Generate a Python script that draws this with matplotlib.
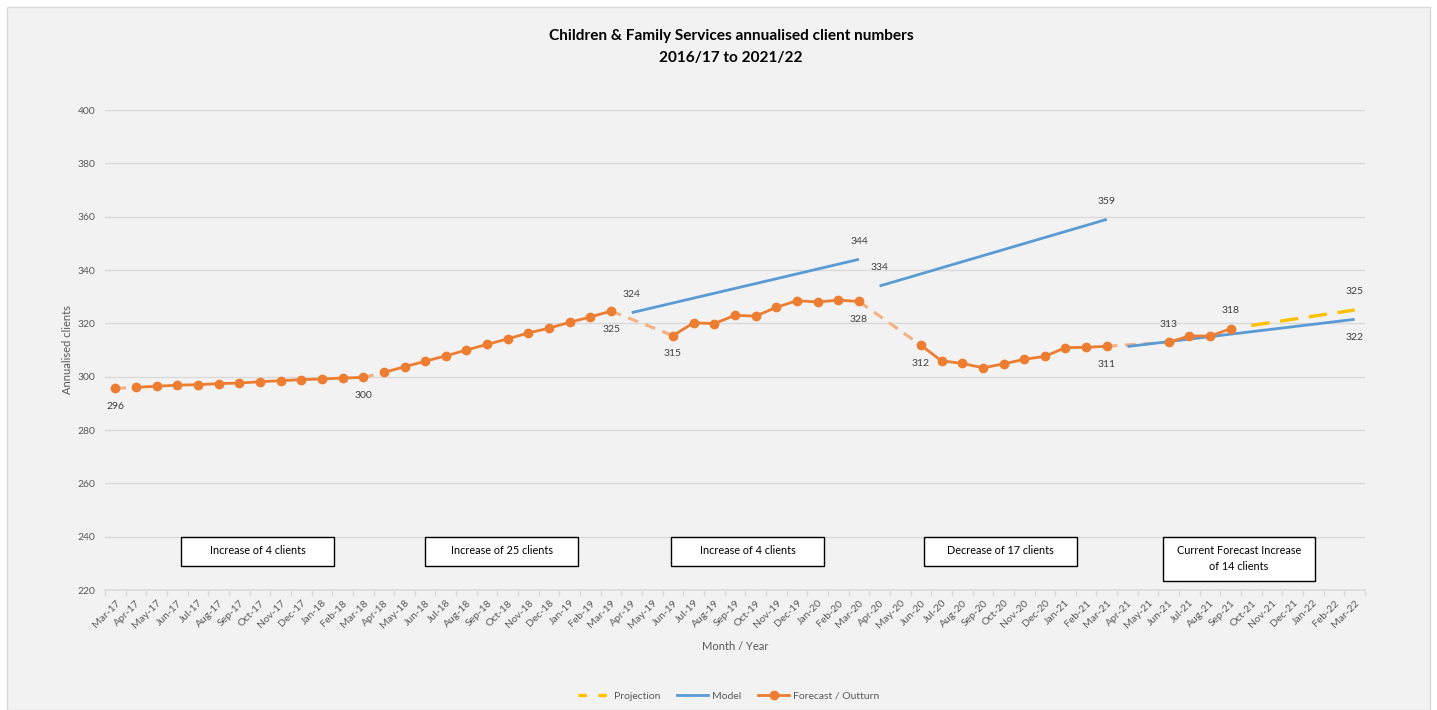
import matplotlib
matplotlib.use("Agg")
import matplotlib.pyplot as plt
from matplotlib.patches import Rectangle
from matplotlib.lines import Line2D
import numpy as np

plt.rcParams['font.family'] = ['Lato', 'DejaVu Sans']

# ---- data -------------------------------------------------------------
months = [
    "Mar-17", "Apr-17", "May-17", "Jun-17", "Jul-17", "Aug-17", "Sep-17", "Oct-17", "Nov-17", "Dec-17", "Jan-18", "Feb-18",
    "Mar-18", "Apr-18", "May-18", "Jun-18", "Jul-18", "Aug-18", "Sep-18", "Oct-18", "Nov-18", "Dec-18", "Jan-19", "Feb-19",
    "Mar-19", "Apr-19", "May-19", "Jun-19", "Jul-19", "Aug-19", "Sep-19", "Oct-19", "Nov-19", "Dec-19", "Jan-20", "Feb-20",
    "Mar-20", "Apr-20", "May-20", "Jun-20", "Jul-20", "Aug-20", "Sep-20", "Oct-20", "Nov-20", "Dec-20", "Jan-21", "Feb-21",
    "Mar-21", "Apr-21", "May-21", "Jun-21", "Jul-21", "Aug-21", "Sep-21", "Oct-21", "Nov-21", "Dec-21", "Jan-22", "Feb-22",
    "Mar-22",
]

# Forecast / outturn, annualised clients (None = no figure for that month)
outturn = [
    295.6, 296.0, 296.4, 296.8, 297.0, 297.4, 297.6, 298.1, 298.5, 298.9, 299.1, 299.5,
    299.7, 301.6, 303.7, 305.8, 307.8, 310.0, 312.1, 314.2, 316.4, 318.2, 320.4, 322.4,
    324.6, None, None, 315.4, 320.2, 319.9, 323.0, 322.7, 326.0, 328.5, 328.0, 328.7,
    328.2, None, None, 311.8, 305.9, 305.0, 303.3, 304.8, 306.5, 307.6, 310.9, 311.0,
    311.4, None, None, 312.9, 315.3, 315.2, 318.0, None, None, None, None, None,
    None,
]

# Model: one straight line per financial year (start month/value, end month/value)
model_start_months = ["Apr-19", "Apr-20", "Apr-21"]
model_start_values = [324.0, 334.0, 311.3]
model_end_months = ["Mar-20", "Mar-21", "Mar-22"]
model_end_values = [344.0, 359.0, 321.5]

# Projection for the rest of 2021/22
projection_months = ["Oct-21", "Mar-22"]
projection_values = [319.2, 325.0]

# Yearly change notes under the lines
note_texts = ["Increase of 4 clients", "Increase of 25 clients", "Increase of 4 clients",
              "Decrease of 17 clients", "Current Forecast Increase\nof 14 clients"]

# ---- styling ----------------------------------------------------------
ORANGE = "#ed7d31"
ORANGE_LIGHT = "#f4b183"
BLUE = "#5b9bd5"
YELLOW = "#ffc000"
GRID = "#d9d9d9"
TXT = "#595959"
LBL = "#404040"

W, H = 1437, 710
fig = plt.figure(figsize=(W / 100, H / 100), dpi=100, facecolor="white")
fig.patches.append(Rectangle((7 / W, 0), (W - 14) / W, (H - 7) / H, transform=fig.transFigure,
                             facecolor="#f2f2f2", edgecolor=GRID, lw=1, zorder=-10))

ax = fig.add_axes([105 / W, 1 - 590 / H, (1365 - 105) / W, (590 - 110) / H])
ax.set_facecolor("none")

x = np.arange(len(months))
idx = {m: i for i, m in enumerate(months)}


def fy_of(i):
    # financial year index (Apr..Mar); Mar-17 belongs to year 0
    return (i + 11) // 12


vals = np.array([np.nan if v is None else v for v in outturn], dtype=float)

# solid lines within each financial year, light dashed link between years
fys = sorted(set(fy_of(i) for i in x if not np.isnan(vals[i])))
last_pt = None
for fy in fys:
    ii = [i for i in x if fy_of(i) == fy and not np.isnan(vals[i])]
    if last_pt is not None:
        ax.plot([last_pt, ii[0]], [vals[last_pt], vals[ii[0]]], color=ORANGE_LIGHT, lw=2.2,
                linestyle=(0, (3.5, 2.5)), zorder=2, solid_capstyle="butt")
    ax.plot(ii, vals[ii], color=ORANGE, lw=2.0, marker="o", markersize=6, zorder=4)
    last_pt = ii[-1]

for sm, sv, em, ev in zip(model_start_months, model_start_values, model_end_months, model_end_values):
    ax.plot([idx[sm], idx[em]], [sv, ev], color=BLUE, lw=2.0, zorder=3, solid_capstyle="butt")

ax.plot([idx[m] for m in projection_months], projection_values, color=YELLOW, lw=2.4,
        linestyle=(0, (5.5, 3.2)), zorder=3)

# data labels
def label(month, value, where):
    dy = 13 if where == "above" else -13
    ax.annotate(f"{value:.0f}", (idx[month], value), xytext=(0, dy), textcoords="offset points",
                ha="center", va="center", fontsize=7.5, color=LBL, zorder=6)


label("Mar-17", vals[idx["Mar-17"]], "below")
label("Mar-18", vals[idx["Mar-18"]], "below")
label("Mar-19", vals[idx["Mar-19"]], "below")
label("Jun-19", vals[idx["Jun-19"]], "below")
label("Mar-20", vals[idx["Mar-20"]], "below")
label("Jun-20", vals[idx["Jun-20"]], "below")
label("Mar-21", vals[idx["Mar-21"]], "below")
label("Jun-21", vals[idx["Jun-21"]], "above")
label("Sep-21", vals[idx["Sep-21"]], "above")
for sm, sv, em, ev in zip(model_start_months, model_start_values, model_end_months, model_end_values):
    if sm != "Apr-21":
        label(sm, sv, "above")
    label(em, ev, "above" if em != "Mar-22" else "below")
label(projection_months[-1], projection_values[-1], "above")

# note boxes
note_left = [3.18, 15.0, 26.9, 39.15, 50.7]
for k, (xl, t) in enumerate(zip(note_left, note_texts)):
    tall = "\n" in t
    y0, y1 = (223.4, 239.9) if tall else (229.0, 239.9)
    ax.add_patch(Rectangle((xl, y0), 7.4, y1 - y0, facecolor="white", edgecolor="black", lw=1, zorder=5))
    ax.text(xl + 3.7, (y0 + y1) / 2 + (0.2 if tall else 0.3), t, ha="center", va="center",
            fontsize=7.8, color="black", zorder=6, linespacing=1.5)

# axes
ax.set_xlim(-0.5, len(months) - 0.5)
ax.set_ylim(220, 400)
ax.set_yticks(np.arange(220, 401, 20))
ax.yaxis.grid(True, color=GRID, lw=1)
ax.set_axisbelow(True)
for s in ["top", "right", "left"]:
    ax.spines[s].set_visible(False)
ax.spines["bottom"].set_color(GRID)
ax.spines["bottom"].set_linewidth(1.2)
ax.tick_params(axis="y", length=0, pad=7, labelsize=7.5, labelcolor=TXT)
ax.set_xticks(x)
ax.set_xticklabels(months, rotation=45, ha="right", rotation_mode="anchor", fontsize=7.5, color=TXT)
ax.tick_params(axis="x", which="major", length=0, pad=6)
ax.set_xticks(np.arange(-0.5, len(months), 1.0), minor=True)
ax.tick_params(axis="x", which="minor", length=4, color=GRID, width=1)

ax.set_ylabel("Annualised clients", fontsize=8, color=TXT, labelpad=3)
ax.set_xlabel("Month / Year", fontsize=8, color=TXT, labelpad=8)

fig.text(731 / W, 1 - 36 / H, "Children & Family Services annualised client numbers",
         ha="center", va="center", fontsize=11.1, fontweight="bold", color="black")
fig.text(731 / W, 1 - 58 / H, "2016/17 to 2021/22",
         ha="center", va="center", fontsize=11.1, fontweight="bold", color="black")

handles = [
    Line2D([], [], color=YELLOW, lw=2.4, linestyle=(0, (2.5, 3.5))),
    Line2D([], [], color=BLUE, lw=2.0),
    Line2D([], [], color=ORANGE, lw=2.0, marker="o", markersize=6),
]
fig.legend(handles, ["Projection", "Model", "Forecast / Outturn"], loc="center",
           bbox_to_anchor=(729 / W, 1 - 696 / H), ncol=3, frameon=False, fontsize=7.5,
           labelcolor=TXT, handlelength=3.0, columnspacing=1.6, handletextpad=0.4)

fig.savefig("out.png", dpi=100, facecolor=fig.get_facecolor())
